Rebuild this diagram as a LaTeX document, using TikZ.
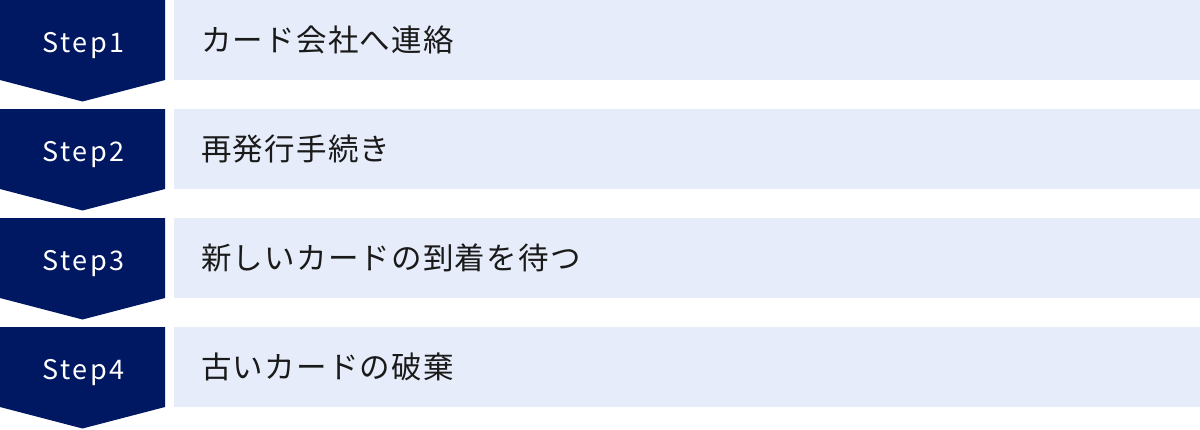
\documentclass[tikz,border=0pt]{standalone}
\usepackage{fontspec}
\usepackage{tikz}
\usetikzlibrary{calc}
\newfontfamily\jpfont[LetterSpace=4]{Noto Sans CJK JP}
\newfontfamily\stepfont[LetterSpace=9]{Noto Sans CJK JP}
\definecolor{stepnavy}{HTML}{001762}
\definecolor{rowblue}{HTML}{E6ECF9}
\definecolor{rowtext}{HTML}{1A1A1A}
\tikzset{
  steplabel/.style={anchor=base, text=white, font=\stepfont\fontsize{27}{30}\selectfont, inner sep=0pt},
  rowlabel/.style={anchor=base west, text=rowtext, font=\jpfont\fontsize{30.5}{33}\selectfont, inner sep=0pt},
}

\begin{document}
\begin{tikzpicture}[x=1pt, y=-1pt]

\useasboundingbox (0,0) rectangle (1200,429);

% Step 1
\coordinate (S1) at (0,0);
\fill[stepnavy] (S1) -- ++(165,0) -- ++(0,80) -- ++(-82.5,21.5) -- ++(-82.5,-21.5) -- cycle;
\fill[rowblue] ($(S1)+(174,0)$) rectangle ++(1026,80);
\node[steplabel] (step1) at ($(S1)+(83.5,52.5)$) {Step1};
\node[rowlabel] (row1) at ($(S1)+(201,51)$) {カード会社へ連絡};

% Step 2
\coordinate (S2) at (0,109);
\fill[stepnavy] (S2) -- ++(165,0) -- ++(0,80) -- ++(-82.5,21.5) -- ++(-82.5,-21.5) -- cycle;
\fill[rowblue] ($(S2)+(174,0)$) rectangle ++(1026,80);
\node[steplabel] (step2) at ($(S2)+(83.5,52.5)$) {Step2};
\node[rowlabel] (row2) at ($(S2)+(201,51)$) {再発行手続き};

% Step 3
\coordinate (S3) at (0,218);
\fill[stepnavy] (S3) -- ++(165,0) -- ++(0,80) -- ++(-82.5,21.5) -- ++(-82.5,-21.5) -- cycle;
\fill[rowblue] ($(S3)+(174,0)$) rectangle ++(1026,80);
\node[steplabel] (step3) at ($(S3)+(83.5,52.5)$) {Step3};
\node[rowlabel] (row3) at ($(S3)+(201,51)$) {新しいカードの到着を待つ};

% Step 4
\coordinate (S4) at (0,327);
\fill[stepnavy] (S4) -- ++(165,0) -- ++(0,80) -- ++(-82.5,21.5) -- ++(-82.5,-21.5) -- cycle;
\fill[rowblue] ($(S4)+(174,0)$) rectangle ++(1026,80);
\node[steplabel] (step4) at ($(S4)+(83.5,52.5)$) {Step4};
\node[rowlabel] (row4) at ($(S4)+(201,51)$) {古いカードの破棄};

\end{tikzpicture}
\end{document}
